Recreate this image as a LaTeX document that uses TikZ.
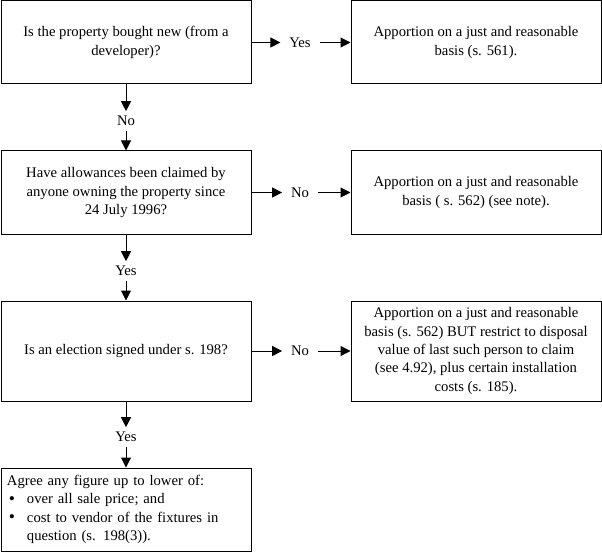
\documentclass[tikz,border=0pt]{standalone}
\usepackage{fontspec}
\setmainfont{Liberation Serif}
\usepackage{tikz}
\usetikzlibrary{arrows.meta}
\tikzset{every edge/.style={draw, line width=0.75pt, -{Triangle[length=7.5pt,width=7.5pt]}}}
\tikzset{box/.style={draw, line width=0.75pt, minimum width=187.5pt, minimum height=62.25pt,
    inner sep=0pt, align=center, font=\fontsize{11}{13.7}\selectfont}}
\tikzset{answer/.style={inner xsep=6.5pt, inner ysep=3.5pt, font=\fontsize{11}{13.7}\selectfont}}
\newcommand{\bulletitem}{\makebox[15pt][l]{\hspace{1.5pt}\raisebox{-0.4pt}{\scalebox{1.2}{\textbullet}}}}

\begin{document}
\begin{tikzpicture}[x=0.75pt, y=-0.75pt]
    \useasboundingbox (0,0) rectangle (602,552);
    \node[box] at (126, 42.5) (new) {Is the property bought new (from a\\ developer)?};
    \node[box] at (476, 42.5) (s561) {Apportion on a just and reasonable\\ basis (s. 561).};
    \node[box] at (126, 192.5) (claimed) {Have allowances been claimed by\\ anyone owning the property since\\ 24 July 1996?};
    \node[box] at (476, 192.5) (s562) {Apportion on a just and reasonable\\ basis ( s. 562) (see note).};
    \node[box, minimum height=75pt] at (126, 351) (election) {Is an election signed under s. 198?};
    \node[box, minimum height=75pt] at (476, 351) (restrict) {Apportion on a just and reasonable\\ basis (s. 562) BUT restrict to disposal\\ value of last such person to claim\\ (see 4.92), plus certain installation\\ costs (s. 185).};
    \node[box, align=left, text width=178.5pt] at (126, 509.5) (agree) {Agree any figure up to lower of:\\
        \bulletitem over all sale price; and\\
        \bulletitem cost to vendor of the fixtures in\\
        \hspace*{15pt}question (s. 198(3)).};

    \node[answer] at (300, 42.5) (yes1) {Yes};
    \node[answer] at (126, 121) (no1) {No};
    \node[answer] at (300, 192.5) (no2) {No};
    \node[answer] at (126, 271) (yes2) {Yes};
    \node[answer] at (300, 351) (no3) {No};
    \node[answer] at (126, 437) (yes3) {Yes};

    \draw (new) edge (yes1);
    \draw (yes1) edge (s561);
    \draw (new) edge (no1);
    \draw (no1) edge (claimed);
    \draw (claimed) edge (no2);
    \draw (no2) edge (s562);
    \draw (claimed) edge (yes2);
    \draw (yes2) edge (election);
    \draw (election) edge (no3);
    \draw (no3) edge (restrict);
    \draw (election) edge (yes3);
    \draw (yes3) edge (agree);
\end{tikzpicture}
\end{document}
